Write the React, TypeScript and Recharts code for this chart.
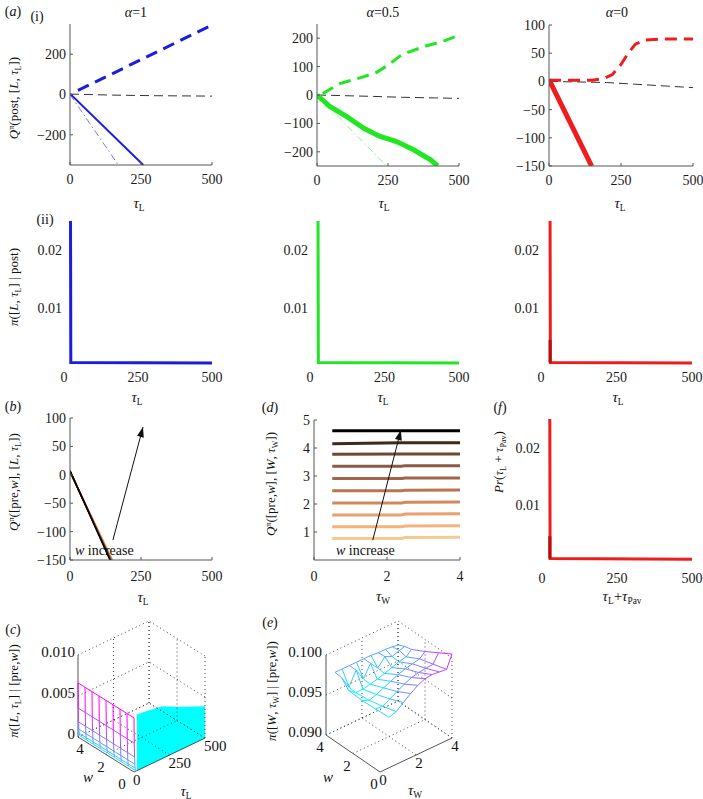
import React from 'react';
import { LineChart, ComposedChart, Line, Area, XAxis, YAxis } from 'recharts';

const FONT = '"Liberation Serif", "Times New Roman", Times, serif';
type P = { x: number; y: number };

// ---------------- (a)(i) Q values ----------------
const tauTicks = [0, 250, 500];
const qA1Ticks = [-200, 0, 200];
const qA1Future: P[] = [{ x: 28, y: 20 }, { x: 500, y: 345 }];
const qA1Zero: P[] = [{ x: 0, y: 2 }, { x: 150, y: -3 }, { x: 300, y: -6 }, { x: 500, y: -8 }];
const qA1Leave: P[] = [{ x: 0, y: 4 }, { x: 258, y: -350 }];
const qA1Alt: P[] = [{ x: 0, y: 0 }, { x: 170, y: -350 }];

const qA05Ticks = [-200, -100, 0, 100, 200];
const qA05Future: P[] = [
  { x: 20, y: 5 }, { x: 80, y: 40 }, { x: 160, y: 63 }, { x: 210, y: 80 }, { x: 250, y: 105 },
  { x: 300, y: 143 }, { x: 375, y: 170 }, { x: 440, y: 188 }, { x: 500, y: 210 },
];
const qA05Zero: P[] = [{ x: 0, y: 0 }, { x: 200, y: -5 }, { x: 300, y: -8 }, { x: 500, y: -12 }];
const qA05Leave: P[] = [
  { x: 0, y: 0 }, { x: 45, y: -40 }, { x: 105, y: -76 }, { x: 165, y: -117 }, { x: 220, y: -145 },
  { x: 280, y: -164 }, { x: 340, y: -193 }, { x: 400, y: -228 }, { x: 425, y: -250 },
];
const qA05Alt: P[] = [{ x: 0, y: 0 }, { x: 245, y: -250 }];

const qA0Ticks = [-150, -100, -50, 0, 50, 100];
const qA0Future: P[] = [
  { x: 0, y: 2 }, { x: 150, y: 2 }, { x: 190, y: 5 }, { x: 220, y: 12 }, { x: 250, y: 30 },
  { x: 275, y: 50 }, { x: 300, y: 66 }, { x: 330, y: 73 }, { x: 380, y: 75 }, { x: 500, y: 75 },
];
const qA0Zero: P[] = [{ x: 0, y: 0 }, { x: 200, y: -2 }, { x: 300, y: -5 }, { x: 400, y: -8 }, { x: 500, y: -11 }];
const qA0Leave: P[] = [{ x: 0, y: 3 }, { x: 148, y: -150 }];

// ---------------- (a)(ii) policies ----------------
const piTicks = [0.01, 0.02];
const piA1: P[] = [{ x: 22, y: 0.0255 }, { x: 23, y: 0.0006 }, { x: 500, y: 0.0005 }];
const piA05: P[] = [{ x: 27, y: 0.0255 }, { x: 28, y: 0.0006 }, { x: 500, y: 0.0005 }];
const piA0: P[] = [{ x: 30, y: 0.0255 }, { x: 31, y: 0.0006 }, { x: 500, y: 0.0005 }];
const piA0Base: P[] = [{ x: 30, y: 0.0045 }, { x: 30, y: 0.0006 }];

// ---------------- (b) Q([pre,w],[L,tau]) ----------------
const qLTicks = [-150, -100, -50, 0, 50, 100];
const qLStart = [5, 5, 5.5, 5.5, 6, 6, 6.5, 6.5, 7, 7];
const qLEndTau = [150, 149, 148, 147, 146, 145, 144, 143, 142, 141];
const qLArrow: P[] = [{ x: 151, y: -115 }, { x: 257, y: 84 }];

// ---------------- (d) Q([pre,w],[W,tau]) ----------------
const tauWTicks = [0, 2, 4];
const qWTicks = [1, 2, 3, 4, 5];
const qWTau = [0.5, 2.4, 2.5, 4];
const qWLines = [
  [0.77, 0.77, 0.8, 0.81],
  [1.19, 1.19, 1.21, 1.22],
  [1.61, 1.61, 1.64, 1.65],
  [2.04, 2.04, 2.06, 2.07],
  [2.47, 2.47, 2.49, 2.5],
  [2.91, 2.91, 2.93, 2.93],
  [3.35, 3.35, 3.37, 3.37],
  [3.78, 3.79, 3.79, 3.79],
  [4.15, 4.19, 4.19, 4.19],
  [4.62, 4.62, 4.62, 4.62],
];
const qWArrow: P[] = [{ x: 1.61, y: 0.71 }, { x: 2.38, y: 4.64 }];
const wColors = ['#f7c98f', '#f3b37a', '#e9a06c', '#d2895c', '#b97553', '#9f6649', '#8a5a41', '#6d4832', '#3c2a20', '#000000'];

// ---------------- (f) Pr(tauL + tauPav) ----------------
const prSum: P[] = [{ x: 26, y: 0.0255 }, { x: 27, y: 0.0006 }, { x: 500, y: 0.0005 }];
const prSumBase: P[] = [{ x: 26, y: 0.0045 }, { x: 26, y: 0.0006 }];

// ---------------- (c) 3-D policy over [L,tau] ----------------
const cWGrid = [0, 0.5, 1, 1.5, 2, 2.5, 3, 3.5, 4];
const cSpikeTau = [0, 2, 4, 6, 8, 10];
const cSpikeZ = [0.0066, 0.0035, 0.0018, 0.0009, 0.0004, 0.0001];
const cPlateauTau = [20, 100, 200, 300, 400, 500];
const cPlateauZ = [0.0068, 0.0066, 0.0063, 0.0054, 0.0046, 0.0038];
const cWTicks = [0, 2, 4];
const cTauTicks = [0, 250, 500];
const cZTicks = [0, 0.005, 0.01];

// ---------------- (e) 3-D policy over [W,tau] ----------------
const eTau = [0.5, 0.9, 1.3, 1.7, 2.1, 2.5, 2.9, 3.3, 3.7, 4.0];
const eW = [4, 3.5, 3, 2, 1, 0];
const eZ = [
  [0.0973, 0.0973, 0.0973, 0.0973, 0.0973, 0.0973, 0.0972, 0.0972, 0.0971, 0.097],
  [0.0972, 0.0956, 0.0973, 0.0958, 0.0973, 0.0963, 0.0973, 0.0969, 0.0972, 0.0974],
  [0.0962, 0.0955, 0.0955, 0.0957, 0.0959, 0.0962, 0.0965, 0.0968, 0.097, 0.0976],
  [0.0961, 0.0957, 0.096, 0.0964, 0.0968, 0.0972, 0.0975, 0.0977, 0.0979, 0.0985],
  [0.0962, 0.0961, 0.0966, 0.0971, 0.0976, 0.098, 0.0982, 0.0983, 0.0984, 0.0995],
  [0.0963, 0.0966, 0.0973, 0.098, 0.0986, 0.099, 0.0991, 0.099, 0.0989, 0.1005],
];
const eWTicks = [0, 2, 4];
const eTauTicks = [0, 2, 4];
const eZTicks = [0.09, 0.095, 0.1];

// ---------------- helpers ----------------
const I = ({ children }: { children: React.ReactNode }) => <span style={{ fontStyle: 'italic' }}>{children}</span>;
const Sub = ({ children }: { children: React.ReactNode }) => (
  <span style={{ fontSize: '0.62em', position: 'relative', top: '0.32em' }}>{children}</span>
);
const Sup = ({ children }: { children: React.ReactNode }) => (
  <span style={{ fontSize: '0.62em', position: 'relative', top: '-0.45em' }}>{children}</span>
);

function Txt(props: { x: number; y: number; anchor?: 'start' | 'middle' | 'end'; size?: number; rotate?: boolean; children: React.ReactNode }) {
  const a = props.anchor || 'middle';
  const tx = a === 'middle' ? '-50%' : a === 'end' ? '-100%' : '0';
  return (
    <div
      style={{
        position: 'absolute', left: props.x, top: props.y,
        transform: `translate(${tx}, -50%)${props.rotate ? ' rotate(-90deg)' : ''}`,
        fontFamily: FONT, fontSize: props.size || 14, lineHeight: 1, whiteSpace: 'nowrap', color: '#111',
      }}
    >
      {props.children}
    </div>
  );
}

const ArrowHead = (props: any) => {
  const { cx, cy, index, points } = props;
  if (!points || index !== points.length - 1 || index < 1) return <g key={`ah-${index}`} />;
  const p0 = points[index - 1];
  const ang = Math.atan2(cy - p0.y, cx - p0.x);
  const L = 10, W = 3.5;
  const bx = cx - L * Math.cos(ang), by = cy - L * Math.sin(ang);
  const nx = -Math.sin(ang), ny = Math.cos(ang);
  return (
    <polygon key={`ah-${index}`} points={`${cx},${cy} ${bx + W * nx},${by + W * ny} ${bx - W * nx},${by - W * ny}`} fill="#111" />
  );
};

type S = { data: P[]; color: string; width: number; dash?: string; arrow?: boolean };
const fmtMinus = (v: any) => String(v).replace('-', '\u2212');

function Plot2D(props: {
  x0: number; x1: number; y0: number; y1: number;
  xDomain: [number, number]; yDomain: [number, number];
  xTicks: number[]; yTicks: number[];
  axisLine: boolean; xGap: number; yGap: number; series: S[];
}) {
  const ML = 48, MR = 14, MT = 12, MB = 28;
  const w = props.x1 - props.x0 + ML + MR;
  const h = props.y1 - props.y0 + MT + MB;
  const ts = props.axisLine ? -3 : 0;
  const tickStyle = { fontSize: 14, fontFamily: FONT, fill: '#1a1a1a' };
  const ax = props.axisLine ? { stroke: '#555' } : false;
  return (
    <div style={{ position: 'absolute', left: props.x0 - ML, top: props.y0 - MT }}>
      <LineChart width={w} height={h} margin={{ top: MT, right: MR, bottom: 0, left: 0 }}>
        <XAxis type="number" dataKey="x" domain={props.xDomain} ticks={props.xTicks} interval={0} allowDataOverflow
          height={MB} axisLine={ax} tickLine={ax} tickSize={ts} tickMargin={props.xGap - ts} tick={tickStyle}
          tickFormatter={fmtMinus} />
        <YAxis type="number" domain={props.yDomain} ticks={props.yTicks} interval={0} allowDataOverflow
          width={ML} axisLine={ax} tickLine={ax} tickSize={ts} tickMargin={props.yGap - ts} tick={tickStyle}
          tickFormatter={fmtMinus} />
        {props.series.map((s, i) => (
          <Line key={i} data={s.data} dataKey="y" type="linear" stroke={s.color} strokeWidth={s.width}
            strokeDasharray={s.dash} dot={s.arrow ? ArrowHead : false} activeDot={false} isAnimationActive={false} />
        ))}
      </LineChart>
    </div>
  );
}

// ---------------- 3-D projection helpers ----------------
type Seg = { pts: P[]; color: string; width: number; dash?: string };
const cool = (t: number) => {
  const c = Math.max(0, Math.min(1, t));
  return `rgb(${Math.round(255 * c)},${Math.round(255 * (1 - c))},255)`;
};
const projC = (w: number, t: number, z: number): P => ({ x: 134 - 14 * w + 0.142 * t, y: 772 - 8.75 * w - 0.068 * t - 8200 * z });
const projE = (w: number, t: number, z: number): P => ({ x: 380 - 13.5 * w + 18 * t, y: 772 - 9.25 * w - 8.5 * t - 8000 * (z - 0.09) });

function boxGrid(proj: (w: number, t: number, z: number) => P, wT: number[], tT: number[], zT: number[], ox: number, oy: number): Seg[] {
  const tp = (w: number, t: number, z: number) => { const p = proj(w, t, z); return { x: p.x - ox, y: p.y - oy }; };
  const wMin = Math.min(...wT), wMax = Math.max(...wT), tMin = Math.min(...tT), tMax = Math.max(...tT);
  const zMin = Math.min(...zT), zMax = Math.max(...zT);
  const segs: Seg[] = [];
  const dot = (a: P, b: P) => segs.push({ pts: [a, b], color: '#444', width: 1, dash: '1 3' });
  zT.forEach((z) => {
    dot(tp(wMax, tMin, z), tp(wMax, tMax, z));
    dot(tp(wMin, tMax, z), tp(wMax, tMax, z));
  });
  tT.forEach((t) => {
    if (t !== tMin) {
      dot(tp(wMax, t, zMin), tp(wMax, t, zMax));
      dot(tp(wMin, t, zMin), tp(wMax, t, zMin));
    }
  });
  wT.forEach((w) => {
    dot(tp(w, tMax, zMin), tp(w, tMax, zMax));
    if (w !== wMin) dot(tp(w, tMin, zMin), tp(w, tMax, zMin));
  });
  const solid = (a: P, b: P) => segs.push({ pts: [a, b], color: '#555', width: 1 });
  solid(tp(wMax, tMin, zMin), tp(wMax, tMin, zMax));
  solid(tp(wMin, tMin, zMin), tp(wMax, tMin, zMin));
  solid(tp(wMin, tMin, zMin), tp(wMin, tMax, zMin));
  return segs;
}

const C_OX = 0, C_OY = 600, E_OX = 230, E_OY = 600;
const toC = (w: number, t: number, z: number): P => { const p = projC(w, t, z); return { x: p.x - C_OX, y: p.y - C_OY }; };
const toE = (w: number, t: number, z: number): P => { const p = projE(w, t, z); return { x: p.x - E_OX, y: p.y - E_OY }; };

function cSegments(): Seg[] {
  const segs = boxGrid(projC, cWTicks, cTauTicks, cZTicks, C_OX, C_OY);
  const zTop = Math.max(...cSpikeZ);
  cSpikeTau.forEach((t, k) => {
    segs.push({ pts: cWGrid.map((w) => toC(w, t, cSpikeZ[k])), color: cool(Math.sqrt(cSpikeZ[k] / zTop)), width: 1 });
  });
  cWGrid.forEach((w) => {
    for (let k = 0; k < cSpikeTau.length - 1; k++) {
      const zHi = Math.max(cSpikeZ[k], cSpikeZ[k + 1]);
      segs.push({ pts: [toC(w, cSpikeTau[k], cSpikeZ[k]), toC(w, cSpikeTau[k + 1], cSpikeZ[k + 1])], color: cool(Math.sqrt(zHi / zTop)), width: 1 });
    }
  });
  return segs;
}
const cArea = cPlateauTau.map((t, i) => {
  const top = toC(0, t, cPlateauZ[i]);
  const bot = toC(0, t, 0);
  return { x: top.x, band: [top.y, bot.y] };
});

function eSegments(): Seg[] {
  const segs = boxGrid(projE, eWTicks, eTauTicks, eZTicks, E_OX, E_OY);
  const all = eZ.flat();
  const zMin = Math.min(...all), zMax = Math.max(...all);
  const col = (z: number) => cool((z - zMin) / (zMax - zMin));
  eW.forEach((w, r) => {
    for (let j = 0; j < eTau.length - 1; j++) {
      segs.push({ pts: [toE(w, eTau[j], eZ[r][j]), toE(w, eTau[j + 1], eZ[r][j + 1])], color: col((eZ[r][j] + eZ[r][j + 1]) / 2), width: 1 });
    }
  });
  eTau.forEach((t, j) => {
    for (let r = 0; r < eW.length - 1; r++) {
      segs.push({ pts: [toE(eW[r], t, eZ[r][j]), toE(eW[r + 1], t, eZ[r + 1][j])], color: col((eZ[r][j] + eZ[r + 1][j]) / 2), width: 1 });
    }
  });
  return segs;
}

function Plot3D(props: { left: number; top: number; segs: Seg[]; area?: any[] }) {
  const W = 240, H = 199;
  return (
    <div style={{ position: 'absolute', left: props.left, top: props.top }}>
      <ComposedChart width={W} height={H} margin={{ top: 0, right: 0, bottom: 0, left: 0 }} data={props.area}>
        <XAxis type="number" dataKey="x" domain={[0, W]} hide allowDataOverflow />
        <YAxis type="number" domain={[0, H]} reversed hide allowDataOverflow />
        {props.segs.filter((s) => s.dash).map((s, i) => (
          <Line key={`d${i}`} data={s.pts} dataKey="y" type="linear" stroke={s.color} strokeWidth={s.width}
            strokeDasharray={s.dash} dot={false} activeDot={false} isAnimationActive={false} />
        ))}
        {props.area ? (
          <Area dataKey="band" type="linear" stroke="#00ffff" strokeWidth={1} fill="#00ffff" fillOpacity={1}
            dot={false} activeDot={false} isAnimationActive={false} />
        ) : null}
        {props.segs.filter((s) => !s.dash).map((s, i) => (
          <Line key={`s${i}`} data={s.pts} dataKey="y" type="linear" stroke={s.color} strokeWidth={s.width}
            dot={false} activeDot={false} isAnimationActive={false} />
        ))}
      </ComposedChart>
    </div>
  );
}

const BLUE = '#1c1ce0', GREEN = '#22e622', RED = '#ee1c1c';
const tauL = <><I>τ</I><Sub>L</Sub></>;
const tauW = <><I>τ</I><Sub>W</Sub></>;

export default function App() {
  const cSegs = cSegments();
  const eSegs = eSegments();
  return (
    <div style={{ position: 'absolute', left: 0, top: 0, width: 703, height: 799, background: '#fff', overflow: 'hidden', fontFamily: FONT }}>
      {/* Row (i) */}
      <Plot2D x0={70} x1={212} y0={24} y1={165} xDomain={[0, 500]} yDomain={[-350, 350]} xTicks={tauTicks} yTicks={qA1Ticks}
        axisLine xGap={9} yGap={4}
        series={[
          { data: qA1Zero, color: '#333', width: 1, dash: '9 5' },
          { data: qA1Alt, color: '#7b7bef', width: 1, dash: '7 3 1.5 3' },
          { data: qA1Leave, color: BLUE, width: 2 },
          { data: qA1Future, color: BLUE, width: 3, dash: '12 7' },
        ]} />
      <Plot2D x0={317} x1={459} y0={24} y1={166} xDomain={[0, 500]} yDomain={[-250, 250]} xTicks={tauTicks} yTicks={qA05Ticks}
        axisLine xGap={9} yGap={4}
        series={[
          { data: qA05Zero, color: '#333', width: 1, dash: '9 5' },
          { data: qA05Alt, color: '#8fef8f', width: 1, dash: '7 3 1.5 3' },
          { data: qA05Leave, color: GREEN, width: 5 },
          { data: qA05Future, color: GREEN, width: 3, dash: '12 7' },
        ]} />
      <Plot2D x0={549} x1={693} y0={25} y1={166} xDomain={[0, 500]} yDomain={[-150, 100]} xTicks={tauTicks} yTicks={qA0Ticks}
        axisLine xGap={9} yGap={4}
        series={[
          { data: qA0Zero, color: '#333', width: 1, dash: '9 5' },
          { data: qA0Leave, color: RED, width: 5 },
          { data: qA0Future, color: RED, width: 3, dash: '12 7' },
        ]} />

      {/* Row (ii) */}
      <Plot2D x0={64} x1={212} y0={221} y1={366} xDomain={[0, 500]} yDomain={[0, 0.025]} xTicks={tauTicks} yTicks={piTicks}
        axisLine={false} xGap={6} yGap={2}
        series={[{ data: piA1, color: BLUE, width: 3 }]} />
      <Plot2D x0={310} x1={459} y0={221} y1={366} xDomain={[0, 500]} yDomain={[0, 0.025]} xTicks={tauTicks} yTicks={piTicks}
        axisLine={false} xGap={6} yGap={2}
        series={[{ data: piA05, color: GREEN, width: 3 }]} />
      <Plot2D x0={541} x1={692} y0={221} y1={366} xDomain={[0, 500]} yDomain={[0, 0.025]} xTicks={tauTicks} yTicks={piTicks}
        axisLine={false} xGap={6} yGap={2}
        series={[{ data: piA0, color: RED, width: 3 }, { data: piA0Base, color: '#b01010', width: 3 }]} />

      {/* (b) */}
      <Plot2D x0={70} x1={212} y0={418} y1={560} xDomain={[0, 500]} yDomain={[-150, 100]} xTicks={tauTicks} yTicks={qLTicks}
        axisLine xGap={11} yGap={4}
        series={[
          ...qLStart.map((s, i) => ({ data: [{ x: 0, y: s }, { x: qLEndTau[i], y: -150 }], color: wColors[i], width: 1.5 })),
          { data: qLArrow, color: '#111', width: 1, arrow: true },
        ]} />
      {/* (d) */}
      <Plot2D x0={314} x1={460} y0={420} y1={560} xDomain={[0, 4]} yDomain={[0, 5]} xTicks={tauWTicks} yTicks={qWTicks}
        axisLine xGap={11} yGap={4}
        series={[
          ...qWLines.map((row, i) => ({ data: row.map((v, j) => ({ x: qWTau[j], y: v })), color: wColors[i], width: 3 })),
          { data: qWArrow, color: '#111', width: 1, arrow: true },
        ]} />
      {/* (f) */}
      <Plot2D x0={542} x1={692} y0={419} y1={562} xDomain={[0, 500]} yDomain={[0, 0.025]} xTicks={tauTicks} yTicks={piTicks}
        axisLine={false} xGap={11} yGap={2}
        series={[{ data: prSum, color: RED, width: 3 }, { data: prSumBase, color: '#b01010', width: 3 }]} />

      {/* (c), (e) 3-D */}
      <Plot3D left={C_OX} top={C_OY} segs={cSegs} area={cArea} />
      <Plot3D left={E_OX} top={E_OY} segs={eSegs} />

      {/* 3-D tick labels */}
      {cZTicks.map((z) => { const p = projC(4, 0, z); return <Txt key={`cz${z}`} x={p.x - 3} y={p.y - 3} anchor="end" size={15}>{z === 0 ? '0' : z.toFixed(3)}</Txt>; })}
      {cWTicks.map((w) => { const p = projC(w, 0, 0); return <Txt key={`cw${w}`} x={p.x + 2 - (4 - w) * 3.5} y={p.y + 12} size={15}>{String(w)}</Txt>; })}
      {cTauTicks.map((t) => { const p = projC(0, t, 0); return <Txt key={`ct${t}`} x={p.x - 1} y={p.y + 8} anchor="start" size={15}>{String(t)}</Txt>; })}
      {eZTicks.map((z) => { const p = projE(4, 0, z); return <Txt key={`ez${z}`} x={p.x - 4} y={p.y - 3} anchor="end" size={15}>{z.toFixed(3)}</Txt>; })}
      {eWTicks.map((w) => { const p = projE(w, 0, 0.09); return <Txt key={`ew${w}`} x={p.x - 6} y={p.y + 12} size={15}>{String(w)}</Txt>; })}
      {eTauTicks.map((t) => { const p = projE(0, t, 0.09); return <Txt key={`et${t}`} x={p.x + 3} y={p.y + 8} size={15}>{String(t)}</Txt>; })}

      {/* panel letters and titles */}
      <Txt x={13} y={12}>(<I>a</I>)</Txt>
      <Txt x={37} y={17}>(i)</Txt>
      <Txt x={45} y={220}>(ii)</Txt>
      <Txt x={13} y={407}>(<I>b</I>)</Txt>
      <Txt x={270} y={408}>(<I>d</I>)</Txt>
      <Txt x={500} y={408}>(<I>f</I>)</Txt>
      <Txt x={13} y={630}>(<I>c</I>)</Txt>
      <Txt x={270} y={623}>(<I>e</I>)</Txt>
      <Txt x={136} y={13}><I>α</I>=1</Txt>
      <Txt x={383} y={13}><I>α</I>=0.5</Txt>
      <Txt x={617} y={13}><I>α</I>=0</Txt>

      {/* x labels */}
      <Txt x={139} y={203} size={15}>{tauL}</Txt>
      <Txt x={384} y={203} size={15}>{tauL}</Txt>
      <Txt x={620} y={203} size={15}>{tauL}</Txt>
      <Txt x={137} y={397} size={15}>{tauL}</Txt>
      <Txt x={383} y={397} size={15}>{tauL}</Txt>
      <Txt x={618} y={397} size={15}>{tauL}</Txt>
      <Txt x={143} y={597} size={15}>{tauL}</Txt>
      <Txt x={383} y={596} size={15}>{tauW}</Txt>
      <Txt x={622} y={596} size={15}>{tauL}+<I>τ</I><Sub>Pav</Sub></Txt>
      <Txt x={88} y={777} size={15}><I>w</I></Txt>
      <Txt x={186} y={791} size={15}>{tauL}</Txt>
      <Txt x={328} y={777} size={15}><I>w</I></Txt>
      <Txt x={415} y={790} size={15}>{tauW}</Txt>

      {/* y labels */}
      <Txt x={14} y={98} size={13} rotate><I>Q</I><Sup>π</Sup>(post, [<I>L</I>, {tauL}])</Txt>
      <Txt x={14} y={287} size={13} rotate><I>π</I>([<I>L</I>, {tauL}] | post)</Txt>
      <Txt x={14} y={482} size={13} rotate><I>Q</I><Sup>π</Sup>([pre,<I>w</I>], [<I>L</I>, {tauL}])</Txt>
      <Txt x={271} y={484} size={13} rotate><I>Q</I><Sup>π</Sup>([pre,<I>w</I>], [<I>W</I>, {tauW}])</Txt>
      <Txt x={499} y={462} size={13} rotate><I>Pr</I>({tauL} + <I>τ</I><Sub>Pav</Sub>)</Txt>
      <Txt x={14} y={691} size={13} rotate><I>π</I>([<I>L</I>, {tauL}] | [pre,<I>w</I>])</Txt>
      <Txt x={272} y={691} size={13} rotate><I>π</I>([<I>W</I>, {tauW}] | [pre,<I>w</I>])</Txt>

      {/* annotations */}
      <Txt x={75} y={551} anchor="start" size={14}><I>w</I> increase</Txt>
      <Txt x={336} y={551} anchor="start" size={14}><I>w</I> increase</Txt>
    </div>
  );
}
